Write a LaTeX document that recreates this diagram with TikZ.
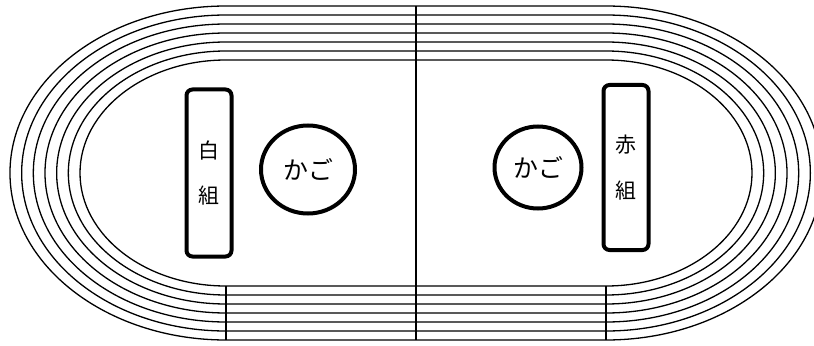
\documentclass[tikz,border=0pt]{standalone}
\usepackage{fontspec}
\newfontfamily\jpfont{Noto Sans CJK JP}
\usetikzlibrary{shapes.geometric}

\tikzset{
  lane/.style={line width=1.3bp},
  teambox/.style={draw, line width=4bp, rounded corners=6bp, minimum width=45bp,
    align=center, inner sep=0pt, font=\jpfont\fontsize{21}{46}\selectfont},
  basket/.style={draw, ellipse, line width=4bp, inner sep=0pt,
    font=\jpfont\fontsize{25}{25}\selectfont}
}

\begin{document}
\begin{tikzpicture}[x=1bp, y=1bp]
    % 画面の大きさ (右端は切れている)
    \useasboundingbox (0,0) rectangle (814,345);
    \clip (0,0) rectangle (814,345);

    % トラック 7本 (直線部 + 楕円のカーブ)
    \foreach \k in {0,...,6} {
        \pgfmathsetmacro{\ra}{146+11.67*\k}
        \pgfmathsetmacro{\rb}{113+9*\k}
        \draw[lane] (226,172-\rb) -- (606,172-\rb)
            arc[start angle=-90, end angle=90, x radius=\ra, y radius=\rb]
            -- (226,172+\rb)
            arc[start angle=90, end angle=270, x radius=\ra, y radius=\rb] -- cycle;
    }

    % 中央の線
    \coordinate (midtop) at (416,339);
    \coordinate (midbot) at (416,5);
    \draw[line width=2.5bp] (midtop) -- (midbot);

    % スタートとゴールの線
    \draw[lane] (226,59) -- (226,5);
    \draw[lane] (606,59) -- (606,5);

    % 白組と赤組
    \node[teambox, minimum height=167bp] (white) at (209,172) {白\\組};
    \node[teambox, minimum height=165bp] (red) at (626,177.5) {赤\\組};

    % かご
    \node[basket, minimum width=94bp, minimum height=88bp] (whitebasket) at (308,175.5) {かご};
    \node[basket, minimum width=87bp, minimum height=82bp] (redbasket) at (538,177.5) {かご};
\end{tikzpicture}
\end{document}
